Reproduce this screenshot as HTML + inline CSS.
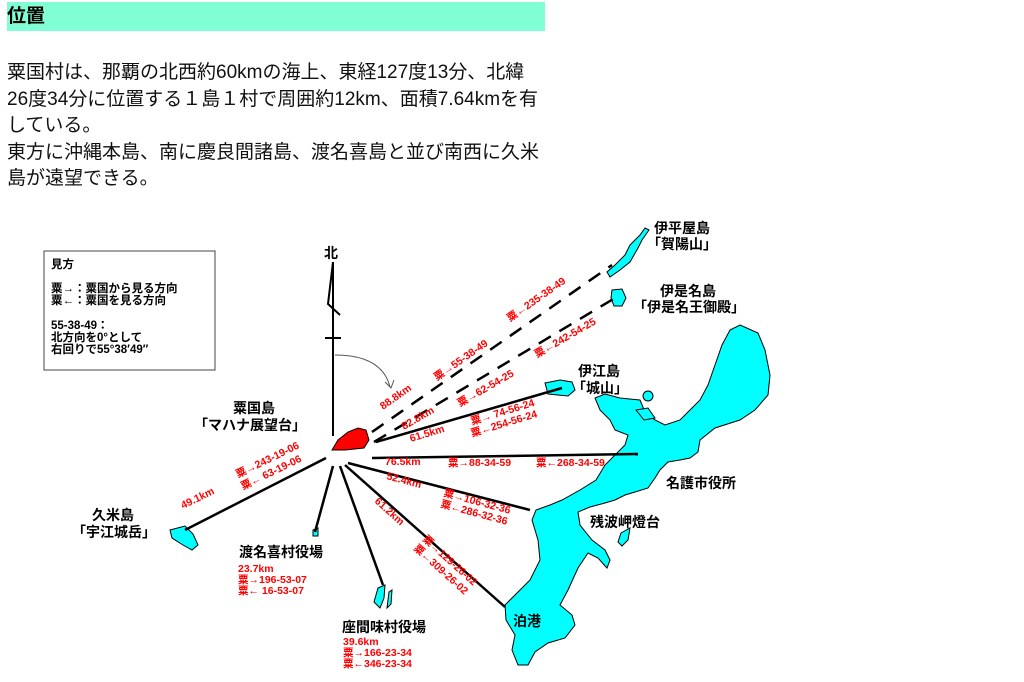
<!DOCTYPE html>
<html><head><meta charset="utf-8"><style>
body{margin:0;background:#fff;width:1024px;height:682px;overflow:hidden;position:relative;font-family:"Liberation Sans","Noto Sans CJK JP",sans-serif}
.h{position:absolute;left:7px;top:2px;width:538px;height:29px;background:#80ffd4;font-weight:bold;font-size:19px;line-height:29px;box-sizing:border-box}
.p{position:absolute;left:7px;top:60px;font-size:19px;line-height:26.5px;color:#111;white-space:nowrap}
svg{position:absolute;left:0;top:0}
</style></head><body>
<div class="h">位置</div>
<div class="p">粟国村は、那覇の北西約60kmの海上、東経127度13分、北緯<br>26度34分に位置する１島１村で周囲約12km、面積7.64kmを有<br>している。<br>東方に沖縄本島、南に慶良間諸島、渡名喜島と並び南西に久米<br>島が遠望できる。</div>
<svg width="1024" height="682" viewBox="0 0 1024 682">
<g font-family="'Liberation Sans','Noto Sans CJK JP',sans-serif">
<rect x="44" y="251" width="171" height="119" fill="#fff" stroke="#444" stroke-width="1"/>
<g font-size="11.5" font-weight="bold" fill="#000">
<text x="51" y="268">見方</text>
<text x="51" y="292">粟→：粟国から見る方向</text>
<text x="51" y="304">粟←：粟国を見る方向</text>
<text x="51" y="329">55-38-49：</text>
<text x="51" y="341">北方向を0°として</text>
<text x="51" y="353">右回りで55°38′49″</text>
</g>
<g fill="#00ffff" stroke="#000" stroke-width="1">
<path d="M740,325 L758,333 L765,350 L770,375 L768,395 L755,410 L740,420 L715,428 L700,440 L698,452 L690,458 L680,460 L668,462 L660,470 L655,478 L648,488 L635,492 L625,495 L615,500 L605,503 L590,507 L578,512 L580,525 L592,540 L605,550 L610,560 L607,568 L598,558 L588,553 L578,568 L568,590 L560,605 L572,615 L575,625 L565,638 L548,643 L535,652 L528,665 L518,665 L512,650 L515,635 L506,620 L505,605 L520,590 L530,580 L540,560 L538,540 L532,520 L536,510 L550,505 L562,500 L580,490 L596,480 L605,465 L625,445 L628,435 L615,430 L610,420 L600,410 L595,398 L605,394 L620,398 L640,400 L645,412 L655,420 L665,425 L680,420 L690,410 L700,400 L708,385 L715,365 L722,345 L730,330 Z"/>
<path d="M636,410 L648,408 L655,418 L644,420 Z"/>
<circle cx="648" cy="396" r="5"/>
<path d="M621,533 L630,528 L628,540 L622,546 L618,542 Z"/>
<path d="M545,383 L560,380 L572,382 L575,390 L568,396 L548,394 Z"/>
<path d="M645,228 L640,235 L630,245 L625,255 L615,265 L607,272 L610,277 L620,270 L630,262 L638,248 L642,240 L649,230 Z"/>
<path d="M612,290 L622,289 L626,298 L622,306 L614,306 L611,298 Z"/>
<path d="M170,530 L185,526 L193,534 L198,545 L192,550 L183,545 L172,538 Z"/>
<path d="M378,588 L385,585 L384,598 L380,608 L374,602 Z"/>
<path d="M389,592 L392,590 L391,604 L387,608 Z"/>
<path d="M313,530 L318,528 L318,536 L313,536 Z"/>
</g>
<path d="M332,450 L338,440 L348,432 L358,428 L366,430 L369,440 L364,448 L345,450 Z" fill="#ff0000" stroke="#000" stroke-width="1"/>
<g stroke="#000" stroke-width="2.5" fill="none">
<line x1="333" y1="262" x2="333" y2="436" stroke-width="2"/>
<polyline points="333,262 328,304 340,315" stroke-width="2"/>
<line x1="325" y1="338" x2="341" y2="338" stroke-width="2"/>
<path d="M335,355 Q382,355 390,387" stroke="#555" stroke-width="1"/>
<line x1="372" y1="432" x2="612" y2="265" stroke-dasharray="14,10"/>
<line x1="374" y1="442" x2="620" y2="295" stroke-dasharray="14,10"/>
<line x1="376" y1="442" x2="562" y2="388"/>
<line x1="372" y1="458" x2="638" y2="454"/>
<line x1="348" y1="463" x2="530" y2="510"/>
<line x1="345" y1="465" x2="505" y2="607"/>
<line x1="340" y1="466" x2="383" y2="585"/>
<line x1="333" y1="466" x2="315" y2="532"/>
<line x1="326" y1="458" x2="185" y2="530"/>
</g>
<path d="M385,382 L391,388 L394,380" stroke="#555" fill="none"/>
<g font-size="14" font-weight="bold" fill="#000">
<text x="324" y="258">北</text>
<text x="654" y="233">伊平屋島</text>
<text x="647" y="249">「賀陽山」</text>
<text x="660" y="296">伊是名島</text>
<text x="633" y="312">「伊是名王御殿」</text>
<text x="578" y="376">伊江島</text>
<text x="572" y="393">「城山」</text>
<text x="666" y="488">名護市役所</text>
<text x="590" y="527">残波岬燈台</text>
<text x="513" y="626">泊港</text>
<text x="233" y="413">粟国島</text>
<text x="194" y="430">「マハナ展望台」</text>
<text x="92" y="520">久米島</text>
<text x="72" y="537">「宇江城岳」</text>
<text x="239" y="557">渡名喜村役場</text>
<text x="342" y="632">座間味村役場</text>
</g>
<g font-size="10.5" font-weight="bold" fill="#ff0000">
<text transform="translate(383,410) rotate(-35)">88.8km</text>
<text transform="translate(437,381) rotate(-35)">粟→55-38-49</text>
<text transform="translate(510,322) rotate(-35)">粟←235-38-49</text>
<text transform="translate(404,430) rotate(-30)">82.8km</text>
<text transform="translate(460,407) rotate(-30)">粟→62-54-25</text>
<text transform="translate(537,358) rotate(-30)">粟←242-54-25</text>
<text transform="translate(411,442) rotate(-17)">61.5km</text>
<text transform="translate(472,425) rotate(-17)">粟→ 74-56-24</text>
<text transform="translate(472,437) rotate(-17)">粟←254-56-24</text>
<text x="385" y="465">76.5km</text>
<text x="448" y="466">粟→88-34-59</text>
<text x="536" y="466">粟←268-34-59</text>
<text transform="translate(386,479) rotate(15)">52.4km</text>
<text transform="translate(443,496) rotate(15)">粟→106-32-36</text>
<text transform="translate(440,507) rotate(15)">粟←286-32-36</text>
<text transform="translate(374,502) rotate(42)">61.2km</text>
<text transform="translate(422,540) rotate(42)">粟→129-26-02</text>
<text transform="translate(413,549) rotate(42)">粟←309-26-02</text>
<text transform="translate(183,509) rotate(-26)">49.1km</text>
<text transform="translate(238,478) rotate(-26)">粟→243-19-06</text>
<text transform="translate(243,490) rotate(-26)">粟← 63-19-06</text>
<text x="238" y="572">23.7km</text>
<text x="238" y="583">粟→196-53-07</text>
<text x="238" y="594">粟←  16-53-07</text>
<text x="343" y="645">39.6km</text>
<text x="343" y="656">粟→166-23-34</text>
<text x="343" y="667">粟←346-23-34</text>
</g>
</g>
</svg>
</body></html>
